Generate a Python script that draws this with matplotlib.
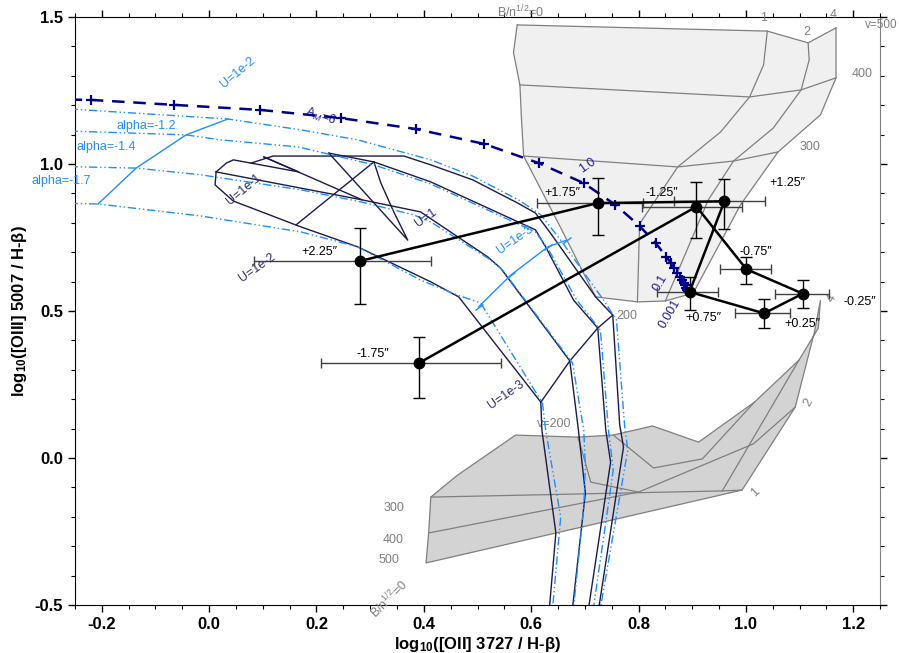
import numpy as np
import matplotlib
matplotlib.use("Agg")
import matplotlib.pyplot as plt
from matplotlib.markers import MarkerStyle
from matplotlib.transforms import Affine2D

plt.rcParams['font.family'] = ['Liberation Sans', 'DejaVu Sans']
plt.rcParams['mathtext.fontset'] = 'custom'
plt.rcParams['mathtext.rm'] = 'Liberation Sans'
plt.rcParams['mathtext.bf'] = 'Liberation Sans:bold'
plt.rcParams['mathtext.it'] = 'Liberation Sans:italic'

NARROW = ['Liberation Sans Narrow', 'Liberation Sans', 'DejaVu Sans']

# ---- data points along the slit ----
offsets = ["-1.75″", "-1.25″", "-0.75″", "-0.25″", "+0.25″", "+0.75″", "+1.25″", "+1.75″", "+2.25″"]
obs_x = np.array([0.391, 0.908, 1.001, 1.106, 1.034, 0.895, 0.960, 0.724, 0.281])
obs_y = np.array([0.323, 0.855, 0.642, 0.559, 0.492, 0.565, 0.873, 0.867, 0.670])
obs_xlo = np.array([0.208, 0.806, 0.951, 1.055, 0.980, 0.835, 0.866, 0.611, 0.084])
obs_xhi = np.array([0.543, 0.992, 1.047, 1.154, 1.083, 0.949, 1.036, 0.809, 0.413])
obs_ylo = np.array([0.204, 0.749, 0.591, 0.509, 0.441, 0.503, 0.778, 0.759, 0.524])
obs_yhi = np.array([0.412, 0.938, 0.685, 0.605, 0.541, 0.617, 0.949, 0.953, 0.782])
lab_x = [0.305, 0.843, 1.018, 1.213, 1.105, 0.921, 1.077, 0.659, 0.205]
lab_y = [0.354, 0.901, 0.701, 0.531, 0.456, 0.476, 0.935, 0.901, 0.701]

# ---- A_M = 6 sequence (dashed) ----
am_x = [-0.26, -0.221, -0.065, 0.095, 0.246, 0.385, 0.513, 0.614, 0.698, 0.757, 0.802, 0.832,
        0.852, 0.861, 0.867, 0.872, 0.878, 0.881, 0.884, 0.886, 0.888, 0.890, 0.892]
am_y = [1.219, 1.218, 1.201, 1.184, 1.156, 1.119, 1.068, 1.003, 0.935, 0.861, 0.789, 0.731,
        0.684, 0.662, 0.646, 0.630, 0.616, 0.605, 0.595, 0.587, 0.578, 0.572, 0.566]

# ---- upper shock grid: rows v=500,450,400,350,300,250,200 ; cols B=0,1,2,4 ----
up_x = np.array([[0.574, 1.040, 1.116, 1.168],
                 [0.567, 1.033, 1.118, 1.168],
                 [0.579, 1.007, 1.103, 1.168],
                 [0.582, 0.953, 1.051, 1.139],
                 [0.586, 0.873, 0.977, 1.060],
                 [0.653, 0.802, 0.930, 0.990],
                 [0.720, 0.798, 0.850, 0.902]])
up_y = np.array([[1.473, 1.452, 1.412, 1.463],
                 [1.379, 1.337, 1.354, 1.378],
                 [1.269, 1.228, 1.252, 1.293],
                 [1.150, 1.109, 1.122, 1.167],
                 [1.027, 0.990, 1.010, 1.041],
                 [0.790, 0.796, 0.878, 0.861],
                 [0.548, 0.531, 0.534, 0.561]])
up_rows = [0, 2, 4, 6]

# ---- lower (precursor) grid ----
low_fill_x = [0.413, 0.463, 0.571, 0.687, 0.753, 0.826, 0.912, 1.016, 1.099, 1.135, 1.139,
              1.128, 1.092, 0.993, 0.404, 0.409]
low_fill_y = [-0.133, -0.058, 0.078, 0.071, 0.078, 0.109, 0.054, 0.190, 0.333, 0.442, 0.537,
              0.430, 0.173, -0.109, -0.357, -0.255]
low_row300_x = [0.413, 0.956, 0.993]
low_row300_y = [-0.133, -0.112, -0.109]
low_row400_x = [0.409, 0.800, 1.014, 1.092]
low_row400_y = [-0.255, -0.116, 0.048, 0.173]
low_b1_x = [0.687, 0.698, 0.711, 0.800]
low_b1_y = [0.071, 0.003, -0.082, -0.116]
low_b2_x = [0.753, 0.828, 0.919, 1.016]
low_b2_y = [0.078, -0.034, -0.003, 0.190]
low_b3_x = [1.099, 0.956]
low_b3_y = [0.333, -0.112]

# ---- dusty photoionization grid (navy, solid) ----
n1_x = [0.013, 0.011, 0.045, 0.171, 0.277, 0.413, 0.465, 0.618, 0.620, 0.646, 0.634]
n1_y = [0.973, 0.929, 0.874, 0.786, 0.718, 0.599, 0.548, 0.190, 0.095, -0.255, -0.51]
n2_x = [0.013, 0.285, 0.394, 0.519, 0.543, 0.672, 0.688, 0.701, 0.677]
n2_y = [0.973, 0.878, 0.837, 0.684, 0.646, 0.330, 0.095, -0.119, -0.51]
n3_x = [0.223, 0.307, 0.413, 0.608, 0.627, 0.679, 0.724, 0.739, 0.748, 0.707]
n3_y = [1.037, 1.007, 0.939, 0.776, 0.718, 0.537, 0.442, 0.095, -0.014, -0.51]
n4_x = [0.013, 0.032, 0.045, 0.078, 0.119, 0.363, 0.413, 0.491, 0.575, 0.608, 0.636, 0.720,
        0.752, 0.765, 0.772, 0.726]
n4_y = [0.973, 1.003, 1.014, 1.003, 1.027, 1.027, 0.997, 0.946, 0.867, 0.833, 0.765, 0.548,
        0.486, 0.112, 0.037, -0.51]
n5_x = [0.102, 0.285]
n5_y = [1.024, 0.878]
n6_x = [0.078, 0.167, 0.102]
n6_y = [1.003, 0.973, 1.024]
nU2_x = [0.307, 0.162]
nU2_y = [1.007, 0.793]
nU0_x = [0.223, 0.370, 0.344, 0.320, 0.307]
nU0_y = [1.037, 0.741, 0.837, 0.935, 1.007]
nU3_x = [0.618, 0.672, 0.724, 0.752]
nU3_y = [0.190, 0.330, 0.442, 0.486]

# ---- dust-free grid (blue, dash-dot) ----
bA_x = [-0.26, 0.035, 0.171, 0.277, 0.413, 0.491, 0.580, 0.618, 0.655, 0.735, 0.759, 0.774, 0.780, 0.729]
bA_y = [1.187, 1.153, 1.116, 1.082, 1.014, 0.959, 0.874, 0.827, 0.741, 0.537, 0.469, 0.112, 0.027, -0.51]
bB_x = [-0.26, -0.043, 0.022, 0.166, 0.307, 0.413, 0.608, 0.633, 0.685, 0.729, 0.744, 0.753, 0.716]
bB_y = [1.112, 1.099, 1.082, 1.058, 0.997, 0.932, 0.769, 0.707, 0.537, 0.435, 0.095, -0.041, -0.51]
bC_x = [-0.26, -0.136, -0.015, 0.171, 0.283, 0.381, 0.413, 0.519, 0.547, 0.677, 0.698, 0.701, 0.698, 0.679]
bC_y = [0.991, 0.986, 0.963, 0.912, 0.871, 0.827, 0.803, 0.680, 0.639, 0.323, 0.095, -0.031, -0.167, -0.51]
bD_x = [-0.26, -0.207, -0.015, 0.171, 0.277, 0.394, 0.463, 0.506, 0.621, 0.627, 0.655, 0.640]
bD_y = [0.866, 0.864, 0.823, 0.769, 0.718, 0.605, 0.554, 0.527, 0.187, 0.095, -0.201, -0.51]
bU2_x = [-0.207, -0.136, -0.043, 0.035]
bU2_y = [0.864, 0.986, 1.099, 1.153]
bU3_x = [0.502, 0.562, 0.631, 0.666]
bU3_y = [0.514, 0.622, 0.718, 0.741]

NAVY = '#1b1b4d'
BLUE = '#1e8fff'
GRID = '#7f7f7f'
AMC = '#00008b'

fig = plt.figure(figsize=(8.99, 6.53), dpi=100)
ax = fig.add_axes([0.0834, 0.0735, 0.8955, 0.9005])

# upper grid
poly_x = np.concatenate([up_x[:, 0], up_x[-1, 1:], up_x[::-1, -1], up_x[0, ::-1]])
poly_y = np.concatenate([up_y[:, 0], up_y[-1, 1:], up_y[::-1, -1], up_y[0, ::-1]])
ax.fill(poly_x, poly_y, color='#f0f0f0', zorder=1, lw=0)
for j in range(up_x.shape[1]):
    ax.plot(up_x[:, j], up_y[:, j], color=GRID, lw=0.9, zorder=2)
for i in up_rows:
    ax.plot(up_x[i], up_y[i], color=GRID, lw=0.9, zorder=2)

# lower grid
ax.fill(low_fill_x, low_fill_y, facecolor='#d3d3d3', edgecolor=GRID, lw=0.9, zorder=1)
for xs, ys in [(low_row300_x, low_row300_y), (low_row400_x, low_row400_y),
               (low_b1_x, low_b1_y), (low_b2_x, low_b2_y), (low_b3_x, low_b3_y)]:
    ax.plot(xs, ys, color=GRID, lw=0.9, zorder=2)

# grid labels
gkw = dict(color='#808080', fontsize=9)
ax.text(0.580, 1.517, r'B/n$^{1/2}$=0', ha='center', va='center', **gkw)
ax.text(1.033, 1.497, '1', ha='center', va='center', **gkw)
ax.text(1.114, 1.449, '2', ha='center', va='center', **gkw)
ax.text(1.163, 1.507, '4', ha='center', va='center', **gkw)
ax.text(1.221, 1.473, 'v=500', ha='left', va='center', color='#808080', fontsize=8.5)
ax.text(1.217, 1.306, '400', ha='center', va='center', **gkw)
ax.text(1.120, 1.058, '300', ha='center', va='center', **gkw)
ax.text(0.778, 0.483, '200', ha='center', va='center', **gkw)
ax.text(0.344, -0.170, '300', ha='center', va='center', **gkw)
ax.text(0.342, -0.279, '400', ha='center', va='center', **gkw)
ax.text(0.335, -0.347, '500', ha='center', va='center', **gkw)
ax.text(0.642, 0.116, 'v=200', ha='center', va='center', **gkw)
ax.text(1.018, -0.116, '1', ha='center', va='center', rotation=45, **gkw)
ax.text(1.116, 0.190, '2', ha='center', va='center', rotation=60, **gkw)
ax.text(1.161, 0.544, '4', ha='center', va='center', rotation=60, **gkw)
ax.text(0.335, -0.480, r'B/n$^{1/2}$=0', ha='center', va='center', rotation=45, **gkw)

# dusty grid
for xs, ys in [(n1_x, n1_y), (n2_x, n2_y), (n3_x, n3_y), (n4_x, n4_y), (n5_x, n5_y),
               (n6_x, n6_y), (nU2_x, nU2_y), (nU0_x, nU0_y), (nU3_x, nU3_y)]:
    ax.plot(xs, ys, color=NAVY, lw=1.0, zorder=3)

# dust-free grid
for xs, ys in [(bA_x, bA_y), (bB_x, bB_y), (bC_x, bC_y), (bD_x, bD_y)]:
    ax.plot(xs, ys, color=BLUE, lw=1.0, dashes=(6, 2, 1, 2, 1, 2), zorder=3)
ax.plot(bU2_x, bU2_y, color=BLUE, lw=1.0, zorder=3)
cap = MarkerStyle('|', transform=Affine2D().rotate_deg(-55))
ax.plot(bU3_x, bU3_y, color=BLUE, lw=1.0, marker=cap, ms=7, mew=1.0, zorder=3)

bkw = dict(color=BLUE, fontsize=9, ha='center', va='center')
ax.text(0.054, 1.310, 'U=1e-2', rotation=40, **bkw)
ax.text(-0.117, 1.129, 'alpha=-1.2', **bkw)
ax.text(-0.192, 1.058, 'alpha=-1.4', **bkw)
ax.text(-0.275, 0.942, 'alpha=-1.7', **bkw)
ax.text(0.571, 0.741, 'U=1e-3', rotation=35, **bkw)

nkw = dict(color='#2b2b6b', fontsize=9, ha='center', va='center')
ax.text(0.065, 0.912, 'U=1e-1', rotation=40, **nkw)
ax.text(0.089, 0.646, 'U=1e-2', rotation=35, **nkw)
ax.text(0.404, 0.816, 'U=1', rotation=35, **nkw)
ax.text(0.553, 0.214, 'U=1e-3', rotation=35, **nkw)

# A_M sequence
ax.plot(am_x, am_y, color=AMC, lw=1.8, dashes=(5, 3.5), zorder=4)
ax.plot(am_x[1:], am_y[1:], ls='none', marker='+', color=AMC, ms=7, mew=1.6, zorder=4)
akw = dict(color='#1c1c9c', fontsize=9, ha='center', va='center')
ax.text(0.208, 1.160, r'A$_M$=6', rotation=-18, **akw)
ax.text(0.705, 0.995, '1.0', rotation=35, **akw)
ax.text(0.841, 0.595, '0.1', rotation=60, **akw)
ax.text(0.858, 0.490, '0.001', rotation=60, **akw)

# observations
ax.errorbar(obs_x, obs_y, xerr=[obs_x - obs_xlo, obs_xhi - obs_x], fmt='none',
            ecolor='#404040', elinewidth=1.0, capsize=3.5, capthick=1.0, zorder=5)
ax.errorbar(obs_x, obs_y, yerr=[obs_y - obs_ylo, obs_yhi - obs_y], fmt='none',
            ecolor='black', elinewidth=1.0, capsize=4, capthick=1.0, zorder=5)
ax.plot(obs_x, obs_y, color='black', lw=1.8, zorder=6)
ax.plot(obs_x, obs_y, ls='none', marker='o', color='black', ms=7.5, zorder=7)
for t, tx, ty in zip(offsets, lab_x, lab_y):
    ax.text(tx, ty, t, fontsize=9, ha='center', va='center', color='black', zorder=7)

# axes
ax.set_xlim(-0.25, 1.25)
ax.set_ylim(-0.5, 1.5)
ax.set_xticks(np.arange(-0.2, 1.21, 0.2))
ax.set_xticks(np.arange(-0.25, 1.251, 0.05), minor=True)
ax.set_yticks(np.arange(-0.5, 1.51, 0.5))
ax.set_yticks(np.arange(-0.5, 1.51, 0.1), minor=True)
ax.set_xticklabels(['%.1f' % v for v in np.arange(-0.2, 1.21, 0.2)])
ax.set_yticklabels(['%.1f' % v for v in np.arange(-0.5, 1.51, 0.5)])
ax.tick_params(which='both', direction='out', top=True, right=True)
ax.tick_params(which='major', length=5, width=1)
ax.tick_params(which='minor', length=3, width=0.8)
for lab in ax.get_xticklabels() + ax.get_yticklabels():
    lab.set_fontweight('bold')
    lab.set_family(NARROW)
    lab.set_fontsize(12)
ax.spines['right'].set_color('#808080')
ax.set_xlabel(r'log$_{\mathbf{10}}$([OII] 3727 / H-β)', fontsize=12, fontweight='bold',
              family=NARROW, labelpad=2)
ax.set_ylabel(r'log$_{\mathbf{10}}$([OIII] 5007 / H-β)', fontsize=12, fontweight='bold',
              family=NARROW, labelpad=4)

fig.savefig('out.png', dpi=100)
